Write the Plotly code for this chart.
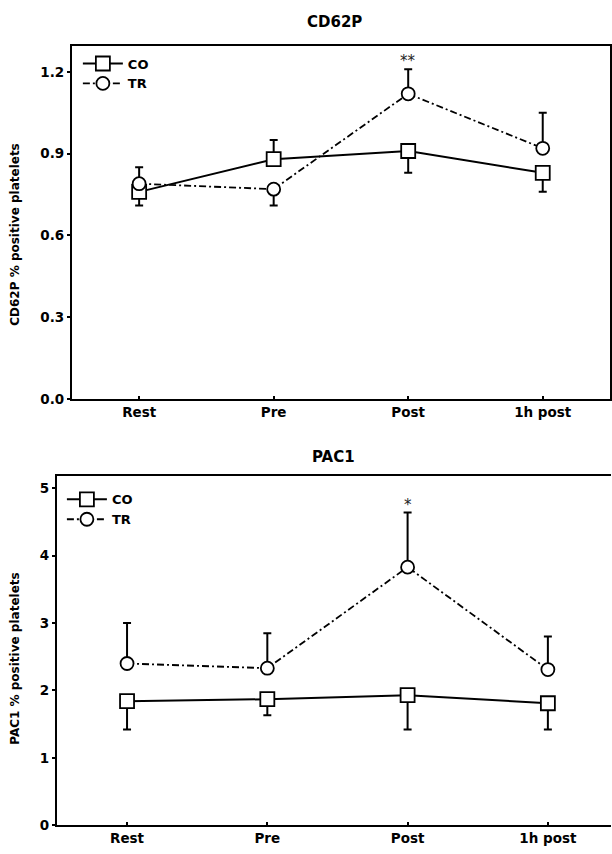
import plotly.graph_objects as go

categories = ["Rest", "Pre", "Post", "1h post"]

# CD62P panel
cd62p_co = [0.76, 0.88, 0.91, 0.83]
cd62p_co_plus = [0.0, 0.07, 0.0, 0.0]
cd62p_co_minus = [0.05, 0.0, 0.08, 0.07]
cd62p_tr = [0.79, 0.77, 1.12, 0.92]
cd62p_tr_plus = [0.06, 0.0, 0.09, 0.13]
cd62p_tr_minus = [0.0, 0.06, 0.0, 0.0]
cd62p_sig = ["", "", "**", ""]

# PAC1 panel
pac1_co = [1.84, 1.87, 1.93, 1.81]
pac1_co_plus = [0.0, 0.0, 0.0, 0.0]
pac1_co_minus = [0.42, 0.24, 0.51, 0.39]
pac1_tr = [2.40, 2.33, 3.83, 2.31]
pac1_tr_plus = [0.60, 0.52, 0.81, 0.49]
pac1_tr_minus = [0.0, 0.0, 0.0, 0.0]
pac1_sig = ["", "", "*", ""]

W, H = 612, 854
FONT = "DejaVu Sans, Verdana, sans-serif"
x_idx = list(range(len(categories)))

fig = go.Figure()

def add_pair(co, co_p, co_m, tr, tr_p, tr_m, xa, ya, legend, sq, ci):
    fig.add_trace(go.Scatter(
        x=x_idx, y=co, name="CO", mode="lines+markers",
        xaxis=xa, yaxis=ya, legend=legend,
        line=dict(color="black", width=2),
        marker=dict(symbol="square", size=sq, color="white",
                    line=dict(color="black", width=1.8)),
        error_y=dict(type="data", symmetric=False, array=co_p, arrayminus=co_m,
                     color="black", thickness=2, width=4),
    ))
    fig.add_trace(go.Scatter(
        x=x_idx, y=tr, name="TR", mode="lines+markers",
        xaxis=xa, yaxis=ya, legend=legend,
        line=dict(color="black", width=1.8, dash="7px,3px,2px,3px"),
        marker=dict(symbol="circle", size=ci, color="white",
                    line=dict(color="black", width=1.8)),
        error_y=dict(type="data", symmetric=False, array=tr_p, arrayminus=tr_m,
                     color="black", thickness=2, width=4),
    ))

add_pair(cd62p_co, cd62p_co_plus, cd62p_co_minus, cd62p_tr, cd62p_tr_plus,
         cd62p_tr_minus, "x", "y", "legend", 14, 13)
add_pair(pac1_co, pac1_co_plus, pac1_co_minus, pac1_tr, pac1_tr_plus,
         pac1_tr_minus, "x2", "y2", "legend2", 14, 13)

def px_x(p):
    return p / W

def px_y(p):
    return 1 - p / H

tickfont = dict(family=FONT, size=13.5, color="black", weight="bold")
xcommon = dict(
    tickmode="array", tickvals=x_idx, ticktext=categories,
    tickson="boundaries", ticks="inside", ticklen=3, tickwidth=1.5,
    tickcolor="black", showgrid=False, zeroline=False,
    showline=True, linecolor="black", linewidth=2, mirror=True,
    tickfont=tickfont, fixedrange=True,
)
ycommon = dict(
    ticks="outside", ticklen=3, tickwidth=1.5, tickcolor="black",
    showgrid=False, zeroline=False, showline=True, linecolor="black",
    linewidth=2, tickfont=tickfont, fixedrange=True,
)
legfont = dict(family=FONT, size=13, color="black", weight="bold")

fig.update_layout(
    width=W, height=H,
    margin=dict(l=0, r=0, t=0, b=0),
    paper_bgcolor="white", plot_bgcolor="white",
    font=dict(family=FONT, color="black"),
    xaxis=dict(domain=[px_x(72), px_x(611)], range=[-0.5, 3.5],
               anchor="y", **xcommon),
    yaxis=dict(domain=[px_y(402.7), px_y(46)], range=[0, 1.297],
               tickvals=[0, 0.3, 0.6, 0.9, 1.2], tickformat=".1f",
               anchor="x", mirror=True, **ycommon),
    xaxis2=dict(domain=[px_x(57), 1.0], range=[-0.5, 3.45],
                anchor="y2", **xcommon),
    yaxis2=dict(domain=[px_y(833), px_y(480)], range=[0, 5.19],
                tickvals=[0, 1, 2, 3, 4, 5], anchor="x2", **ycommon),
    legend=dict(x=px_x(78), y=px_y(49), xanchor="left", yanchor="top",
                bgcolor="rgba(0,0,0,0)", itemwidth=40, tracegroupgap=0,
                font=legfont),
    legend2=dict(x=px_x(62), y=px_y(489), xanchor="left", yanchor="top",
                 bgcolor="rgba(0,0,0,0)", itemwidth=40, tracegroupgap=0,
                 font=legfont),
    showlegend=True,
)

annotations = []
def label(text, x, y, size, angle=0):
    annotations.append(dict(text=text, x=px_x(x), y=px_y(y), xref="paper",
                            yref="paper", showarrow=False, textangle=angle,
                            xanchor="center", yanchor="middle",
                            font=dict(family=FONT, size=size, weight="bold")))

# panel titles
label("CD62P", 335, 22, 15)
label("PAC1", 334, 461, 15)
# y-axis titles
label("CD62P % positive platelets", 15, 236, 12, -90)
label("PAC1 % positive platelets", 15, 665, 12, -90)

# significance marks above TR error bars
for i, s in enumerate(cd62p_sig):
    if s:
        annotations.append(dict(text=s, x=x_idx[i], y=cd62p_tr[i] + cd62p_tr_plus[i],
                                xref="x", yref="y", showarrow=False,
                                xanchor="center", yanchor="bottom", yshift=-3,
                                font=dict(family=FONT, size=15, color="#222")))
for i, s in enumerate(pac1_sig):
    if s:
        annotations.append(dict(text=s, x=x_idx[i], y=pac1_tr[i] + pac1_tr_plus[i],
                                xref="x2", yref="y2", showarrow=False,
                                xanchor="center", yanchor="bottom", yshift=-3,
                                font=dict(family=FONT, size=15, color="#222")))
fig.update_layout(annotations=annotations)

fig.write_html("out.html", config={"displayModeBar": False},
               post_script="document.body.style.margin='0';")
